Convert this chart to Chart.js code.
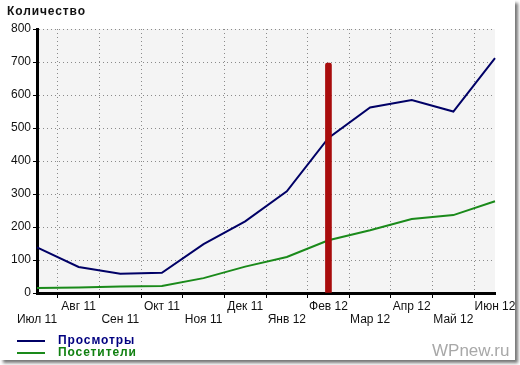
<!DOCTYPE html>
<html>
<head>
<meta charset="utf-8">
<script src="https://cdn.jsdelivr.net/npm/chart.js@4/dist/chart.umd.min.js"></script>
<style>
  body { margin: 0; background: #fff; }
  #frame {
    position: absolute; left: 0; top: 0; width: 515px; height: 360px;
    background: #fff; box-shadow: 3px 3px 3px #777;
  }
  #wrap { position: absolute; left: 0; top: 0; width: 520px; height: 365px; }
  .txt { position: absolute; font-family: "Liberation Sans", Arial, sans-serif; white-space: nowrap; }
  #title { left: 7px; top: 4px; font-size: 12px; font-weight: bold; letter-spacing: 0.9px; color: #111; }
  .leg { position: absolute; left: 17px; width: 28px; height: 2px; }
  .legtxt { left: 58px; font-size: 12px; font-weight: bold; letter-spacing: 0.9px; }
  #wm { left: 432px; top: 341px; font-size: 17px; color: #a8a8a8; }
</style>
</head>
<body>
<div id="frame"></div>
<div id="wrap"><canvas id="chart" width="520" height="365"></canvas></div>
<div id="title" class="txt">Количество</div>
<div class="leg" style="top:340px;background:#000066"></div>
<div class="leg" style="top:352px;background:#1a8a1a"></div>
<div class="txt legtxt" style="top:333px;color:#000080">Просмотры</div>
<div class="txt legtxt" style="top:345px;color:#108010">Посетители</div>
<div id="wm" class="txt">WPnew.ru</div>
<script>
// months on x axis
const months = ["Июл 11", "Авг 11", "Сен 11", "Окт 11", "Ноя 11", "Дек 11",
  "Янв 12", "Фев 12", "Мар 12", "Апр 12", "Май 12", "Июн 12"];

// series
const views = [138, 79, 58, 61, 148, 217, 308, 470, 562, 585, 550, 712];
const visitors = [15, 17, 20, 21, 45, 80, 109, 160, 190, 224, 236, 278];

// red marker at Feb 12
const marker = [null, null, null, null, null, null, null, 697, null, null, null, null];

const yMin = 0, yMax = 800, yStep = 100;

// plot background
const plotBg = {
  id: "plotBg",
  beforeDraw(chart) {
    let a = chart.chartArea;
    let ctx = chart.ctx;
    ctx.save();
    ctx.fillStyle = "#f4f4f4";
    ctx.fillRect(a.left, a.top, a.right - a.left, a.bottom - a.top);
    ctx.restore();
  }
};

let ctx = document.getElementById("chart").getContext("2d");

new Chart(ctx, {
  type: "line",
  data: {
    labels: months,
    datasets: [
      {
        label: "Просмотры",
        data: views,
        borderColor: "#000066",
        borderWidth: 2,
        pointRadius: 0,
        tension: 0,
        order: 2
      },
      {
        label: "Посетители",
        data: visitors,
        borderColor: "#1a8a1a",
        borderWidth: 2,
        pointRadius: 0,
        tension: 0,
        order: 3
      },
      {
        type: "bar",
        label: "marker",
        data: marker,
        backgroundColor: "#a80c0c",
        barThickness: 6,
        borderRadius: { topLeft: 2, topRight: 2 },
        borderSkipped: "bottom",
        order: 1
      }
    ]
  },
  options: {
    responsive: false,
    animation: false,
    layout: { padding: { left: 0, top: 29, right: 25, bottom: 32 } },
    plugins: { legend: { display: false }, tooltip: { enabled: false } },
    scales: {
      x: {
        offset: false,
        grid: {
          color: "#8a8a8a",
          tickColor: "#000",
          tickLength: 5,
          tickBorderDash: [],
          lineWidth: 1
        },
        border: { color: "#000", width: 3, dash: [1, 3] },
        ticks: {
          autoSkip: false,
          maxRotation: 0,
          padding: 2,
          color: "#111",
          font: { family: "Liberation Sans, Arial, sans-serif", size: 12, lineHeight: 1.1 },
          callback: function (v, i) {
            return i % 2 === 0 ? ["", months[i]] : [months[i]];
          }
        },
        afterFit(scale) { scale.height = 40; }
      },
      y: {
        min: yMin,
        max: yMax,
        grid: {
          color: "#8a8a8a",
          tickColor: "#000",
          tickLength: 4,
          tickBorderDash: [],
          lineWidth: 1
        },
        border: { color: "#000", width: 3, dash: [1, 3] },
        ticks: {
          stepSize: yStep,
          padding: 2,
          color: "#111",
          font: { family: "Liberation Sans, Arial, sans-serif", size: 12 }
        },
        afterFit(scale) { scale.width = 37; }
      }
    }
  },
  plugins: [plotBg]
});
</script>
</body>
</html>
